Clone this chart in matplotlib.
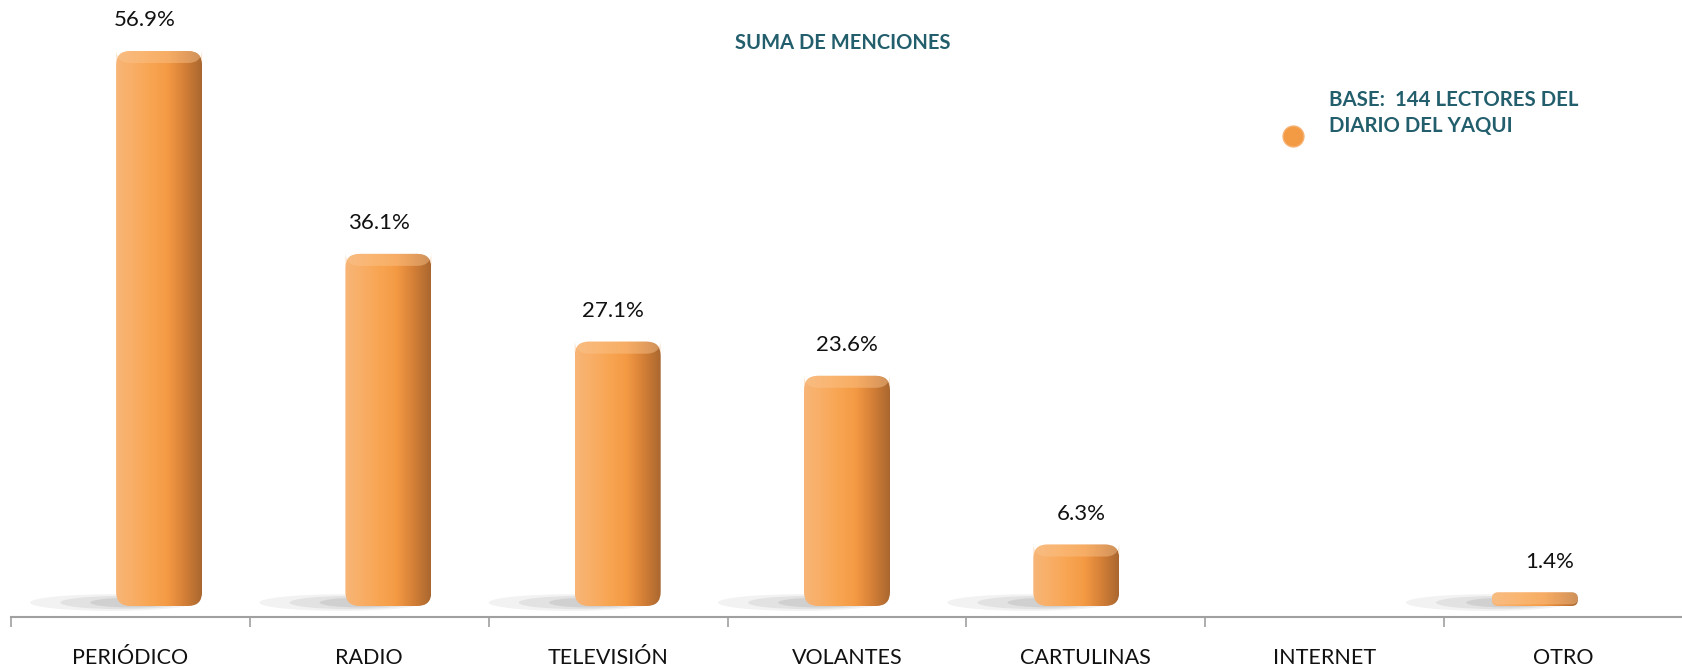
import numpy as np
import matplotlib
matplotlib.use("Agg")
import matplotlib.pyplot as plt
from matplotlib.patches import FancyBboxPatch, Ellipse
from matplotlib.colors import LinearSegmentedColormap

categories = ["PERIÓDICO", "RADIO", "TELEVISIÓN", "VOLANTES", "CARTULINAS", "INTERNET", "OTRO"]
values = [56.9, 36.1, 27.1, 23.6, 6.3, 0.0, 1.4]
value_labels = ["56.9%", "36.1%", "27.1%", "23.6%", "6.3%", "", "1.4%"]
title = "SUMA DE MENCIONES"
legend_text = "BASE:  144 LECTORES DEL\nDIARIO DEL YAQUI"

plt.rcParams['font.family'] = ['Lato', 'DejaVu Sans']
TEAL = '#235E6D'

W, H = 1683, 668
fig = plt.figure(figsize=(W / 100, H / 100), dpi=100)
ax = fig.add_axes([11 / W, (H - 617) / H, 1 - 11 / W, 617 / H])

px_per_unit = 555 / 56.9
ax.set_xlim(-0.5, 6.5)
ax.set_ylim(-(617 - 606) / px_per_unit, 606 / px_per_unit)

x = np.arange(len(categories))
offsets = -0.04 * (x - 3)
bw = 0.36
bars = ax.bar(x + offsets, values, width=bw, color='none', edgecolor='none')

cmap = LinearSegmentedColormap.from_list(
    "bar", ["#F7B577", "#F9AE66", "#F8A552", "#F49A44", "#D47F37", "#A9672F"])
grad = np.linspace(0, 1, 256).reshape(1, -1)

x_px = (W - 11) / 7.0
r_px = 14
for b, v in zip(bars, values):
    if v <= 0:
        continue
    bx, by = b.get_x(), b.get_y()
    w, h = b.get_width(), b.get_height()
    # soft shadow to the left of the base
    for k, a in zip([1.0, 0.75, 0.5], [0.09, 0.12, 0.15]):
        sh = Ellipse((bx + w * 0.4 - w * 0.45 * k, 0.35), w * 1.9 * k, 1.4 * k + 0.3,
                     facecolor='#6F6F6F', alpha=a, edgecolor='none', zorder=1)
        ax.add_patch(sh)
    r = min(r_px, h * px_per_unit / 2.2)
    rx = r / x_px
    aspect = (r / px_per_unit) / rx
    patch = FancyBboxPatch((bx, by), w, h,
                           boxstyle=f"round,pad=0,rounding_size={rx}",
                           mutation_aspect=aspect, facecolor='none',
                           edgecolor='none', zorder=3)
    ax.add_patch(patch)
    im = ax.imshow(grad, cmap=cmap, aspect='auto', extent=(bx, bx + w, by, by + h),
                   zorder=2, interpolation='bilinear')
    im.set_clip_path(patch)
    capH = min(h, 12 / px_per_unit)
    cap = FancyBboxPatch((bx, by + h - capH), w, capH,
                         boxstyle=f"round,pad=0,rounding_size={rx}",
                         mutation_aspect=aspect, facecolor='#FBC58E', alpha=0.45,
                         edgecolor='none', zorder=3)
    ax.add_patch(cap)

for xi, v, lab in zip(x + offsets * 0.5, values, value_labels):
    if lab:
        ax.annotate(lab, (xi, v), xytext=(0, 22), textcoords='offset points',
                    ha='center', va='center', fontsize=16, color='#111111')

ax.set_xticks(x)
ax.set_xticklabels(categories, fontsize=15.5, color='#111111')
ax.set_xticks(np.arange(-0.5, 6.6, 1.0), minor=True)
ax.tick_params(axis='x', which='major', length=0, pad=22)
ax.tick_params(axis='x', which='minor', length=7, color='#A0A0A0', width=1.2)
ax.set_yticks([])
for s in ['top', 'right', 'left']:
    ax.spines[s].set_visible(False)
ax.spines['bottom'].set_color('#A0A0A0')
ax.spines['bottom'].set_linewidth(1.5)
ax.patch.set_alpha(0)

fig.text(843 / W, 1 - 43 / H, title, ha='center', va='center', fontsize=14.5,
         fontweight='bold', color=TEAL)
fig.text(1329 / W, 1 - 113 / H, legend_text, ha='left', va='center', fontsize=14.7,
         fontweight='bold', color=TEAL, linespacing=1.4)
fig.add_artist(plt.Line2D([1293 / W], [1 - 136 / H], marker='o', markersize=15,
                          color='#F39A45', markeredgecolor='#F6B070', transform=fig.transFigure))

fig.savefig("out.png", dpi=100)
